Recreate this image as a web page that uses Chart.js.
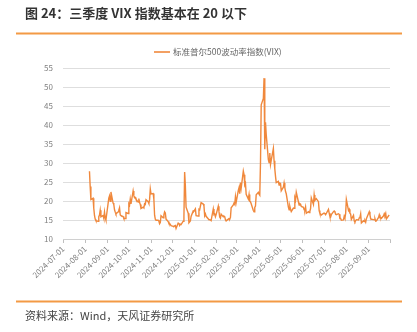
<!DOCTYPE html>
<html>
<head>
<meta charset="utf-8">
<script src="https://cdn.jsdelivr.net/npm/chart.js@4.4.1/dist/chart.umd.min.js"></script>
<style>
  html, body { margin: 0; padding: 0; background: #ffffff; }
  #wrap { width: 417px; height: 332px; position: relative; }
  canvas { display: block; }
</style>
</head>
<body>
<div id="wrap"><canvas id="c" width="417" height="332"></canvas></div>
<script>
// CBOE VIX daily closes
const tradeDates = [
  '2024-08-07','2024-08-08','2024-08-09','2024-08-12','2024-08-13','2024-08-14','2024-08-15','2024-08-16',
  '2024-08-19','2024-08-20','2024-08-21','2024-08-22','2024-08-23','2024-08-26','2024-08-27','2024-08-28',
  '2024-08-29','2024-08-30',
  '2024-09-03','2024-09-04','2024-09-05','2024-09-06','2024-09-09','2024-09-10','2024-09-11','2024-09-12',
  '2024-09-13','2024-09-16','2024-09-17','2024-09-18','2024-09-19','2024-09-20','2024-09-23','2024-09-24',
  '2024-09-25','2024-09-26','2024-09-27','2024-09-30',
  '2024-10-01','2024-10-02','2024-10-03','2024-10-04','2024-10-07','2024-10-08','2024-10-09','2024-10-10',
  '2024-10-11','2024-10-14','2024-10-15','2024-10-16','2024-10-17','2024-10-18','2024-10-21','2024-10-22',
  '2024-10-23','2024-10-24','2024-10-25','2024-10-28','2024-10-29','2024-10-30','2024-10-31',
  '2024-11-01','2024-11-04','2024-11-05','2024-11-06','2024-11-07','2024-11-08','2024-11-11','2024-11-12',
  '2024-11-13','2024-11-14','2024-11-15','2024-11-18','2024-11-19','2024-11-20','2024-11-21','2024-11-22',
  '2024-11-25','2024-11-26','2024-11-27','2024-11-29',
  '2024-12-02','2024-12-03','2024-12-04','2024-12-05','2024-12-06','2024-12-09','2024-12-10','2024-12-11',
  '2024-12-12','2024-12-13','2024-12-16','2024-12-17','2024-12-18','2024-12-19','2024-12-20','2024-12-23',
  '2024-12-24','2024-12-26','2024-12-27','2024-12-30','2024-12-31',
  '2025-01-02','2025-01-03','2025-01-06','2025-01-07','2025-01-08','2025-01-10','2025-01-13','2025-01-14',
  '2025-01-15','2025-01-16','2025-01-17','2025-01-21','2025-01-22','2025-01-23','2025-01-24','2025-01-27',
  '2025-01-28','2025-01-29','2025-01-30','2025-01-31',
  '2025-02-03','2025-02-04','2025-02-05','2025-02-06','2025-02-07','2025-02-10','2025-02-11','2025-02-12',
  '2025-02-13','2025-02-14','2025-02-18','2025-02-19','2025-02-20','2025-02-21','2025-02-24','2025-02-25',
  '2025-02-26','2025-02-27','2025-02-28',
  '2025-03-03','2025-03-04','2025-03-05','2025-03-06','2025-03-07','2025-03-10','2025-03-11','2025-03-12',
  '2025-03-13','2025-03-14','2025-03-17','2025-03-18','2025-03-19','2025-03-20','2025-03-21','2025-03-24',
  '2025-03-25','2025-03-26','2025-03-27','2025-03-28','2025-03-31',
  '2025-04-01','2025-04-02','2025-04-03','2025-04-04','2025-04-07','2025-04-08','2025-04-09','2025-04-10',
  '2025-04-11','2025-04-14','2025-04-15','2025-04-16','2025-04-17','2025-04-21','2025-04-22','2025-04-23',
  '2025-04-24','2025-04-25','2025-04-28','2025-04-29','2025-04-30',
  '2025-05-01','2025-05-02','2025-05-05','2025-05-06','2025-05-07','2025-05-08','2025-05-09','2025-05-12',
  '2025-05-13','2025-05-14','2025-05-15','2025-05-16','2025-05-19','2025-05-20','2025-05-21','2025-05-22',
  '2025-05-23','2025-05-27','2025-05-28','2025-05-29','2025-05-30',
  '2025-06-02','2025-06-03','2025-06-04','2025-06-05','2025-06-06','2025-06-09','2025-06-10','2025-06-11',
  '2025-06-12','2025-06-13','2025-06-16','2025-06-17','2025-06-18','2025-06-20','2025-06-23','2025-06-24',
  '2025-06-25','2025-06-26','2025-06-27','2025-06-30',
  '2025-07-01','2025-07-02','2025-07-03','2025-07-07','2025-07-08','2025-07-09','2025-07-10','2025-07-11',
  '2025-07-14','2025-07-15','2025-07-16','2025-07-17','2025-07-18','2025-07-21','2025-07-22','2025-07-23',
  '2025-07-24','2025-07-25','2025-07-28','2025-07-29','2025-07-30','2025-07-31',
  '2025-08-01','2025-08-04','2025-08-05','2025-08-06','2025-08-07','2025-08-08','2025-08-11','2025-08-12',
  '2025-08-13','2025-08-14','2025-08-15','2025-08-18','2025-08-19','2025-08-20','2025-08-21','2025-08-22',
  '2025-08-25','2025-08-26','2025-08-27','2025-08-28','2025-08-29',
  '2025-09-02','2025-09-03','2025-09-04','2025-09-05','2025-09-08','2025-09-09','2025-09-10','2025-09-11',
  '2025-09-12','2025-09-15','2025-09-16','2025-09-17','2025-09-18','2025-09-19','2025-09-22','2025-09-23',
  '2025-09-24','2025-09-25','2025-09-26','2025-09-29','2025-09-30'
];

const vixClose = [
  27.85,23.79,20.37,20.71,18.12,16.19,15.23,14.80,
  14.65,15.88,16.27,17.55,15.86,16.15,15.43,17.11,
  15.65,15.00,
  20.72,21.32,19.90,22.38,19.45,19.08,17.69,17.07,
  16.56,17.14,17.61,18.23,16.33,16.15,15.89,15.39,
  15.41,15.37,16.96,16.73,
  19.26,18.90,20.49,19.21,22.64,21.42,20.86,20.93,
  20.46,19.70,20.64,19.58,19.11,18.03,18.37,18.20,
  19.24,19.08,20.33,19.80,19.34,20.35,23.16,
  21.88,21.98,20.49,16.27,15.20,14.94,14.97,14.71,
  14.02,14.31,16.14,15.58,16.35,17.16,16.87,15.24,
  14.60,14.10,14.10,13.51,
  13.34,13.30,13.45,13.54,12.77,14.19,14.18,13.58,
  13.92,13.81,14.69,15.87,27.62,24.09,18.36,16.78,
  14.27,14.73,15.95,17.40,17.35,
  17.93,16.13,16.04,17.82,17.70,19.54,19.19,18.71,
  16.12,16.60,15.97,15.06,15.10,15.02,14.85,17.90,
  16.41,16.56,15.84,16.43,
  18.62,17.21,15.77,15.50,16.54,15.81,16.02,15.89,
  15.10,14.77,15.35,15.27,15.66,18.21,18.98,19.43,
  19.10,21.13,19.63,
  22.78,23.51,21.93,24.87,23.37,27.86,26.92,24.23,
  24.66,21.77,20.51,21.70,19.90,19.80,19.28,17.48,
  17.15,18.33,18.69,21.65,22.28,
  21.77,21.51,30.02,45.31,46.98,52.33,33.62,40.72,
  37.56,30.89,30.12,32.64,29.65,33.82,30.57,28.45,
  26.47,24.84,25.15,24.17,24.70,
  24.60,22.68,23.64,24.76,23.55,22.48,21.90,18.39,
  17.71,18.62,17.83,17.24,18.14,18.09,20.87,20.28,
  22.29,18.96,19.31,19.18,18.57,
  18.36,17.69,17.61,18.48,16.77,17.16,16.95,17.26,
  18.02,20.82,19.11,21.60,20.14,20.62,19.83,17.48,
  16.76,16.59,16.32,16.73,
  16.83,16.64,16.38,17.79,16.81,15.94,15.78,16.40,
  17.20,17.38,17.16,16.52,16.41,16.65,16.50,15.37,
  15.39,14.93,15.03,15.98,15.48,16.72,
  20.38,17.52,17.85,16.77,16.57,15.15,16.25,14.73,
  14.49,14.83,15.09,15.00,15.57,15.69,16.60,14.22,
  14.79,14.62,14.85,14.43,15.36,
  17.17,16.35,15.30,15.18,15.11,15.04,15.35,14.71,
  14.76,15.69,16.36,15.72,15.70,15.45,16.10,16.64,
  16.18,16.74,15.29,16.12,16.28
];

// Month-start tick labels on the date axis
const monthTicks = [
  '2024-07-01','2024-08-01','2024-09-01','2024-10-01','2024-11-01','2024-12-01','2025-01-01',
  '2025-02-01','2025-03-01','2025-04-01','2025-05-01','2025-06-01','2025-07-01','2025-08-01','2025-09-01'
];
const axisStart = '2024-07-01';
const axisEnd = '2025-10-01';
const yTicks = [10, 15, 20, 25, 30, 35, 40, 45, 50, 55];

const seriesName = '标准普尔500波动率指数(VIX)';
const chartTitle = '图 24：三季度 VIX 指数基本在 20 以下';
const sourceNote = '资料来源：Wind，天风证券研究所';

const ORANGE = '#F0883C';
const RULE = '#F39A45';
const FONT = '"Noto Sans CJK SC", "Noto Sans", sans-serif';

// days elapsed since the start of the date axis
function dayIndex(s) {
  const [y, m, d] = s.split('-').map(Number);
  const [y0, m0, d0] = axisStart.split('-').map(Number);
  return (Date.UTC(y, m - 1, d) - Date.UTC(y0, m0 - 1, d0)) / 86400000;
}

const points = tradeDates.map((d, i) => ({ x: dayIndex(d), y: vixClose[i] }));
const tickValues = monthTicks.concat([axisEnd]).map(dayIndex);

// header, footer, rules and legend around the plot
const frame = {
  id: 'frame',
  beforeDraw(chart) {
    const ctx = chart.ctx;
    ctx.save();
    ctx.fillStyle = '#ffffff';
    ctx.fillRect(0, 0, chart.width, chart.height);
    ctx.restore();
  },
  afterDraw(chart) {
    const ctx = chart.ctx;
    ctx.save();
    // title
    ctx.fillStyle = '#333333';
    ctx.font = 'bold 13px ' + FONT;
    ctx.textBaseline = 'middle';
    ctx.textAlign = 'left';
    ctx.fillText(chartTitle, 25, 13.5);
    // rules
    ctx.strokeStyle = RULE;
    ctx.lineWidth = 2;
    ctx.beginPath();
    ctx.moveTo(16, 33.5); ctx.lineTo(402, 33.5);
    ctx.moveTo(16, 301.5); ctx.lineTo(402, 301.5);
    ctx.stroke();
    // legend
    ctx.strokeStyle = ORANGE;
    ctx.lineWidth = 1.6;
    ctx.beginPath();
    ctx.moveTo(154, 52); ctx.lineTo(170, 52);
    ctx.stroke();
    ctx.fillStyle = '#666666';
    ctx.font = '8.5px ' + FONT;
    ctx.fillText(seriesName, 173, 52);
    // source
    ctx.fillStyle = '#444444';
    ctx.font = '11px ' + FONT;
    ctx.fillText(sourceNote, 25, 316);
    ctx.restore();
  }
};

new Chart(document.getElementById('c'), {
  type: 'line',
  data: {
    datasets: [{
      label: seriesName,
      data: points,
      borderColor: ORANGE,
      backgroundColor: ORANGE,
      borderWidth: 1.4,
      pointRadius: 0,
      tension: 0,
      fill: false
    }]
  },
  options: {
    responsive: false,
    animation: false,
    devicePixelRatio: 1,
    layout: { padding: { top: 68, left: 0, right: 27, bottom: 43 } },
    plugins: {
      legend: { display: false },
      tooltip: { enabled: false }
    },
    scales: {
      x: {
        type: 'linear',
        min: dayIndex(axisStart),
        max: dayIndex(axisEnd),
        afterBuildTicks(scale) {
          scale.ticks = tickValues.map(v => ({ value: v }));
        },
        afterFit(scale) { scale.height = 50; },
        grid: {
          display: true,
          drawOnChartArea: false,
          drawTicks: true,
          tickLength: 4,
          color: '#bfbfbf'
        },
        border: { display: true, color: '#d0d0d0' },
        ticks: {
          autoSkip: false,
          minRotation: 45,
          maxRotation: 45,
          padding: 1,
          color: '#808080',
          font: { family: FONT, size: 8 },
          callback: (v, i) => monthTicks[i] || ''
        }
      },
      y: {
        min: yTicks[0],
        max: yTicks[yTicks.length - 1],
        afterBuildTicks(scale) {
          scale.ticks = yTicks.map(v => ({ value: v }));
        },
        afterFit(scale) { scale.width = 63; },
        grid: { color: '#dedede', drawTicks: false, lineWidth: 1 },
        border: { display: false },
        ticks: {
          padding: 10,
          color: '#808080',
          font: { family: FONT, size: 8 }
        }
      }
    }
  },
  plugins: [frame]
});
</script>
</body>
</html>
